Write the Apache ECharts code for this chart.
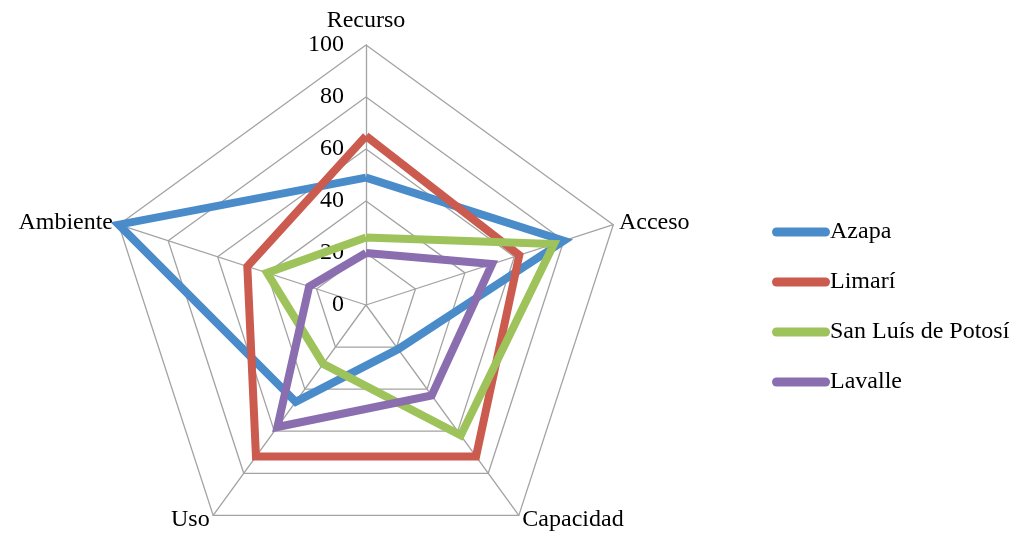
<!DOCTYPE html>
<html>
<head>
<meta charset="utf-8">
<script src="https://cdn.jsdelivr.net/npm/echarts@6/dist/echarts.min.js"></script>
<style>
  html, body { margin: 0; padding: 0; background: #fff; }
  #chart { width: 1020px; height: 544px; }
</style>
</head>
<body>
<div id="chart"></div>
<script>
// Dimensions of the radar, listed counter-clockwise starting at the top
const indicators = ['Recurso', 'Ambiente', 'Uso', 'Capacidad', 'Acceso'];
const axisMax = 100;
const axisSplits = 5;

// Scores per site, in the same order as the indicators
const azapa   = [49, 100, 46, 21, 80];
const limari  = [65, 48, 72, 72, 62];
const sanLuis = [26, 40, 28, 62, 76];
const lavalle = [20, 23, 58, 43, 51];

const seriesNames = ['Azapa', 'Limarí', 'San Luís de Potosí', 'Lavalle'];
const seriesValues = [azapa, limari, sanLuis, lavalle];
const colors = ['#4A8BC9', '#CB5A4F', '#9DC35A', '#8A6EB0'];

const FONT = '"Liberation Serif", "Times New Roman", serif';
const GRID = '#a3a3a3';

const chart = echarts.init(document.getElementById('chart'), null, { renderer: 'canvas' });

chart.setOption({
  animation: false,
  backgroundColor: '#ffffff',
  color: colors,
  legend: {
    orient: 'vertical',
    left: 767,
    top: 208,
    itemWidth: 58,
    itemHeight: 9,
    itemGap: 12,
    icon: 'path://M4.5,0 L53.5,0 A4.5,4.5 0 0 1 53.5,9 L4.5,9 A4.5,4.5 0 0 1 4.5,0 Z',
    textStyle: {
      fontFamily: FONT,
      fontSize: 24,
      color: '#000',
      lineHeight: 28,
      padding: [10, 0, 0, -5]
    },
    data: seriesNames
  },
  radar: {
    center: [366, 305],
    radius: 260,
    startAngle: 90,
    shape: 'polygon',
    splitNumber: axisSplits,
    indicator: indicators.map(function (name, i) {
      const ind = { name: name, min: 0, max: axisMax };
      if (i === 0) {
        ind.axisLabel = {
          show: true,
          fontFamily: FONT,
          fontSize: 24,
          color: '#000',
          margin: 22
        };
      }
      return ind;
    }),
    axisName: {
      color: '#000',
      fontFamily: FONT,
      fontSize: 24
    },
    nameGap: 6,
    axisLine: { lineStyle: { color: GRID, width: 1.3 } },
    splitLine: { lineStyle: { color: GRID, width: 1.3 } },
    splitArea: { show: false },
    axisTick: { show: false },
    axisLabel: { show: false }
  },
  series: [{
    type: 'radar',
    symbol: 'none',
    data: seriesNames.map(function (name, i) {
      return {
        name: name,
        value: seriesValues[i],
        lineStyle: { color: colors[i], width: 8, join: 'miter' },
        itemStyle: { color: colors[i] }
      };
    })
  }]
});
</script>
</body>
</html>
